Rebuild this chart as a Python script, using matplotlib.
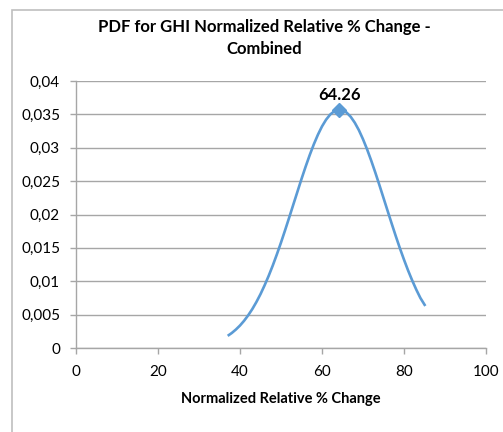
import matplotlib
matplotlib.use("Agg")
import matplotlib.pyplot as plt
from matplotlib.patches import Rectangle
from matplotlib.ticker import MultipleLocator, FuncFormatter

plt.rcParams["font.family"] = ["Lato", "DejaVu Sans"]

# values
x_vals = [37.0, 38, 39, 40, 41, 42, 43, 44, 45, 46, 47, 48, 49, 50, 51, 52,
          53, 54, 55, 56, 57, 58, 59, 60, 61, 62, 63, 64.26, 65, 66, 67, 68,
          69, 70, 71, 72, 73, 74, 75, 76, 77, 78, 79, 80, 81, 82, 83, 84, 85.2]
pdf_vals = [0.00182, 0.00225, 0.00277, 0.00337, 0.00408, 0.0049, 0.00583,
            0.00689, 0.00807, 0.00939, 0.01082, 0.01237, 0.01404, 0.0158,
            0.01765, 0.01955, 0.02148, 0.0234, 0.02532, 0.02716, 0.0289,
            0.03051, 0.03195, 0.0332, 0.03421, 0.03498, 0.03547, 0.0357,
            0.03562, 0.03527, 0.03464, 0.03375, 0.03263, 0.03128, 0.02976,
            0.02808, 0.02629, 0.02441, 0.02248, 0.02055, 0.01863, 0.01675,
            0.01494, 0.01323, 0.01161, 0.01012, 0.00874, 0.00749, 0.0063]
peak_x = 64.26
peak_y = 0.0357
peak_label = "64.26"

title = "PDF for GHI Normalized Relative % Change -\nCombined"
xlabel = "Normalized Relative % Change"

fig = plt.figure(figsize=(5.03, 4.32), dpi=100)
W, H = 503, 432

# chart frame (left and top edges visible)
fig.patches.append(Rectangle((12 / W, -0.1), 1.2, 1 - 10 / H + 0.1,
                             transform=fig.transFigure, fill=False,
                             edgecolor="#BFBFBF", linewidth=1.2))

ax = fig.add_axes([76 / W, 1 - 348 / H, (486 - 76) / W, (348 - 81) / H])

ax.plot(x_vals, pdf_vals, color="#5B9BD5", linewidth=1.9, solid_capstyle="butt")
ax.plot([peak_x], [peak_y], marker="D", markersize=7, color="#5B9BD5",
        linestyle="none")
ax.annotate(peak_label, (peak_x, peak_y), xytext=(0, 5),
            textcoords="offset points", ha="center", va="bottom",
            fontsize=12, fontweight="bold")

ax.set_xlim(0, 100)
ax.set_ylim(0, 0.04)
ax.xaxis.set_major_locator(MultipleLocator(20))
ax.yaxis.set_major_locator(MultipleLocator(0.005))
ax.yaxis.set_major_formatter(FuncFormatter(
    lambda v, p: "0" if abs(v) < 1e-12 else f"{v:.3f}".rstrip("0").replace(".", ",")))

ax.grid(axis="y", color="#A6A6A6", linewidth=1.0)
ax.set_axisbelow(True)
for s in ["top", "right"]:
    ax.spines[s].set_visible(False)
for s in ["left", "bottom"]:
    ax.spines[s].set_color("#A6A6A6")
    ax.spines[s].set_linewidth(1.0)
ax.tick_params(axis="both", colors="#A6A6A6", labelcolor="black",
               labelsize=11, length=4.5, width=1.0)
ax.tick_params(axis="y", pad=7)
ax.tick_params(axis="x", pad=8)

ax.set_xlabel(xlabel, fontsize=10.5, fontweight="bold", labelpad=9)
fig.text(264 / W, 1 - 38 / H, title, ha="center", va="center",
         fontsize=12, fontweight="bold", linespacing=1.45)

fig.savefig("out.png", dpi=100)
